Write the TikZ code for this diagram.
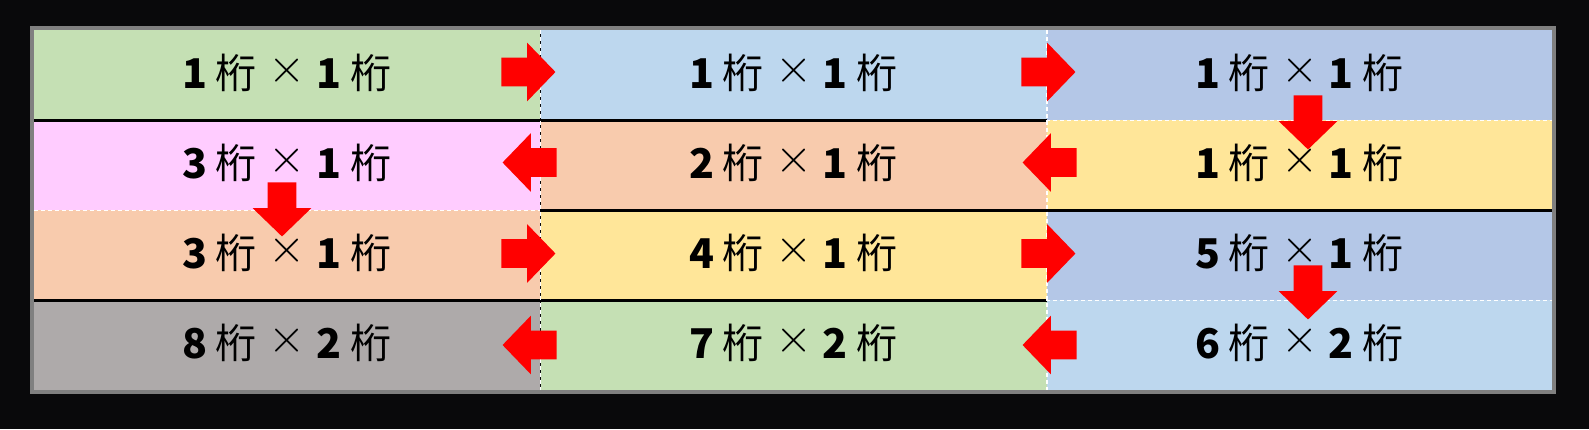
\documentclass[tikz,border=0pt]{standalone}
\usepackage{graphicx}
\usepackage{fontspec}
\setmainfont{Noto Sans CJK JP}
\usetikzlibrary{shapes.arrows}

\definecolor{bgblack}{HTML}{09090B}
\definecolor{framegray}{HTML}{808080}
\definecolor{cgreen}{HTML}{C5E0B4}
\definecolor{cltblue}{HTML}{BDD7EE}
\definecolor{cblue}{HTML}{B4C7E7}
\definecolor{cpink}{HTML}{FFCCFF}
\definecolor{cpeach}{HTML}{F8CBAD}
\definecolor{cyellow}{HTML}{FFE699}
\definecolor{cgray}{HTML}{AEAAAA}
\definecolor{arrowred}{HTML}{FF0000}

\newcommand{\keta}[2]{\textbf{#1}\hspace{4pt}桁\hspace{6pt}\raisebox{2.6pt}{\scalebox{1.15}{$\times$}}\hspace{5pt}\textbf{#2}\hspace{4.5pt}桁}

\begin{document}
\begin{tikzpicture}[x=0.5pt,y=-0.5pt,
    cell/.style={rectangle,minimum width=253pt,minimum height=45pt,inner sep=0pt,
        text height=13pt,text depth=0pt,font=\fontsize{20.5pt}{24pt}\selectfont},
    blockarrow/.style={single arrow,fill=arrowred,draw=none,inner sep=0pt,inner ysep=7pt,
        text height=0pt,text depth=0pt,minimum height=27pt,
        single arrow head extend=7.5pt,single arrow tip angle=92},
    toleft/.style={blockarrow,shape border rotate=180},
    todown/.style={blockarrow,inner ysep=0pt,inner xsep=7pt,shape border rotate=270},
    rowline/.style={black,line width=1.5pt},
    cutline/.style={white,line width=0.6pt,dash pattern=on 2pt off 1.5pt}]
    \fill[bgblack] (0,0) rectangle (1589,429);
    \useasboundingbox (0,0) rectangle (1589,429);
    %the twelve cells, row by row
    \node[cell,fill=cgreen]  (c11) at (287,75)    {\keta{1}{1}};
    \node[cell,fill=cltblue] (c12) at (793.5,75)  {\keta{1}{1}};
    \node[cell,fill=cblue]   (c13) at (1299.5,75) {\keta{1}{1}};
    \node[cell,fill=cpink]   (c21) at (287,165)    {\keta{3}{1}};
    \node[cell,fill=cpeach]  (c22) at (793.5,165)  {\keta{2}{1}};
    \node[cell,fill=cyellow] (c23) at (1299.5,165) {\keta{1}{1}};
    \node[cell,fill=cpeach]  (c31) at (287,255)    {\keta{3}{1}};
    \node[cell,fill=cyellow] (c32) at (793.5,255)  {\keta{4}{1}};
    \node[cell,fill=cblue]   (c33) at (1299.5,255) {\keta{5}{1}};
    \node[cell,fill=cgray]   (c41) at (287,345)    {\keta{8}{2}};
    \node[cell,fill=cgreen]  (c42) at (793.5,345)  {\keta{7}{2}};
    \node[cell,fill=cltblue] (c43) at (1299.5,345) {\keta{6}{2}};
    %separators
    \draw[rowline] (c11.south west) -- (c12.south east);
    \draw[cutline] (c13.south west) -- (c13.south east);
    \draw[cutline] (c21.south west) -- (c21.south east);
    \draw[rowline] (c22.south west) -- (c23.south east);
    \draw[rowline] (c31.south west) -- (c32.south east);
    \draw[cutline] (c33.south west) -- (c33.south east);
    \draw[cutline] (c11.north east) -- (c41.south east);
    \draw[cutline] (c12.north east) -- (c42.south east);
    \draw[framegray,line width=2pt] (32,28) rectangle (1554,392);
    %arrows
    \node[blockarrow,anchor=tip] (a11) at (556,72) {};
    \node[blockarrow,anchor=tip] (a12) at (1076,72) {};
    \node[todown,anchor=tip] (d13) at (1308,150) {};
    \node[toleft,anchor=tip] (a22) at (1022,162.5) {};
    \node[toleft,anchor=tip] (a21) at (502,162.5) {};
    \node[todown,anchor=tip] (d21) at (282,237) {};
    \node[blockarrow,anchor=tip] (a31) at (556,253.5) {};
    \node[blockarrow,anchor=tip] (a32) at (1076,253.5) {};
    \node[todown,anchor=tip] (d33) at (1308,320) {};
    \node[toleft,anchor=tip] (a42) at (1022,345) {};
    \node[toleft,anchor=tip] (a41) at (502,345) {};
\end{tikzpicture}
\end{document}
